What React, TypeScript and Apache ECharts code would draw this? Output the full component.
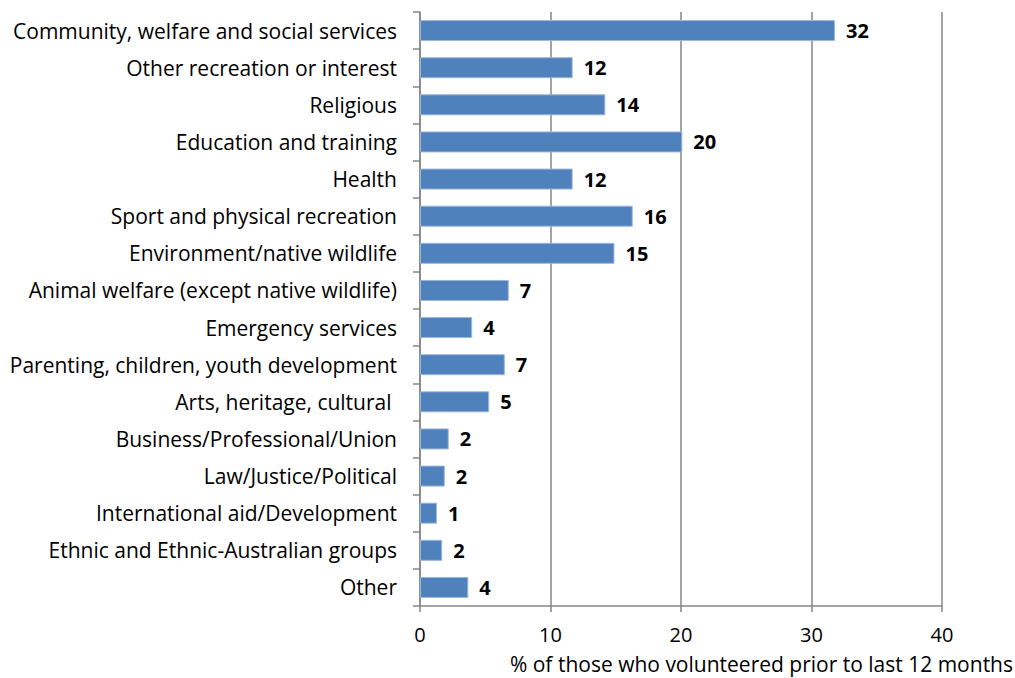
import React, { useEffect, useRef } from "react";
import * as echarts from "echarts";

const categories = [
  "Community, welfare and social services",
  "Other recreation or interest",
  "Religious",
  "Education and training",
  "Health",
  "Sport and physical recreation",
  "Environment/native wildlife",
  "Animal welfare (except native wildlife)",
  "Emergency services",
  "Parenting, children, youth development",
  "Arts, heritage, cultural ",
  "Business/Professional/Union",
  "Law/Justice/Political",
  "International aid/Development",
  "Ethnic and Ethnic-Australian groups",
  "Other",
];

const values = [31.8, 11.7, 14.2, 20.1, 11.7, 16.3, 14.9, 6.8, 4.0, 6.5, 5.3, 2.2, 1.9, 1.3, 1.7, 3.7];
const labels = ["32", "12", "14", "20", "12", "16", "15", "7", "4", "7", "5", "2", "2", "1", "2", "4"];

const xTicks = [0, 10, 20, 30, 40];
const xTitle = "% of those who volunteered prior to last 12 months";

const FONT = "Open Sans";

export default function App() {
  const ref = useRef<HTMLDivElement>(null);
  useEffect(() => {
    if (!ref.current) return;
    const chart = echarts.init(ref.current, undefined, { renderer: "svg" });
    chart.setOption({
      animation: false,
      backgroundColor: "#ffffff",
      textStyle: { fontFamily: FONT },
      grid: { left: 420, right: 73, top: 12, bottom: 72 },
      xAxis: {
        type: "value",
        min: xTicks[0],
        max: xTicks[xTicks.length - 1],
        interval: 10,
        axisLine: { show: true, lineStyle: { color: "#868686", width: 1.5 } },
        axisTick: { show: true, length: 6, lineStyle: { color: "#868686", width: 1.5 } },
        splitLine: { show: true, lineStyle: { color: "#868686", width: 1.5 } },
        axisLabel: { color: "#000", fontSize: 20, fontFamily: FONT, margin: 18 },
      },
      yAxis: {
        type: "category",
        inverse: true,
        data: categories,
        axisLine: { show: true, lineStyle: { color: "#868686", width: 1.5 } },
        axisTick: { show: true, length: 7, alignWithLabel: false, lineStyle: { color: "#868686", width: 1.5 } },
        axisLabel: { color: "#000", fontSize: 21, fontFamily: FONT, margin: 23 },
        splitLine: { show: false },
      },
      series: [
        {
          type: "bar",
          data: values,
          barWidth: 21,
          itemStyle: { color: "#4F81BD", borderColor: "#9bb7dc", borderWidth: 1 },
          label: {
            show: true,
            position: "right",
            distance: 11,
            color: "#000",
            fontWeight: "bold",
            fontSize: 20,
            fontFamily: FONT,
            formatter: (p: any) => labels[p.dataIndex],
          },
        },
      ],
      graphic: [
        {
          type: "text",
          right: 2,
          top: 653,
          style: { text: xTitle, fill: "#000", fontSize: 21, fontFamily: FONT, textAlign: "right" },
        },
      ],
    });
    return () => chart.dispose();
  }, []);
  return <div ref={ref} style={{ position: "fixed", left: 0, top: 0, width: 1015, height: 678 }} />;
}
